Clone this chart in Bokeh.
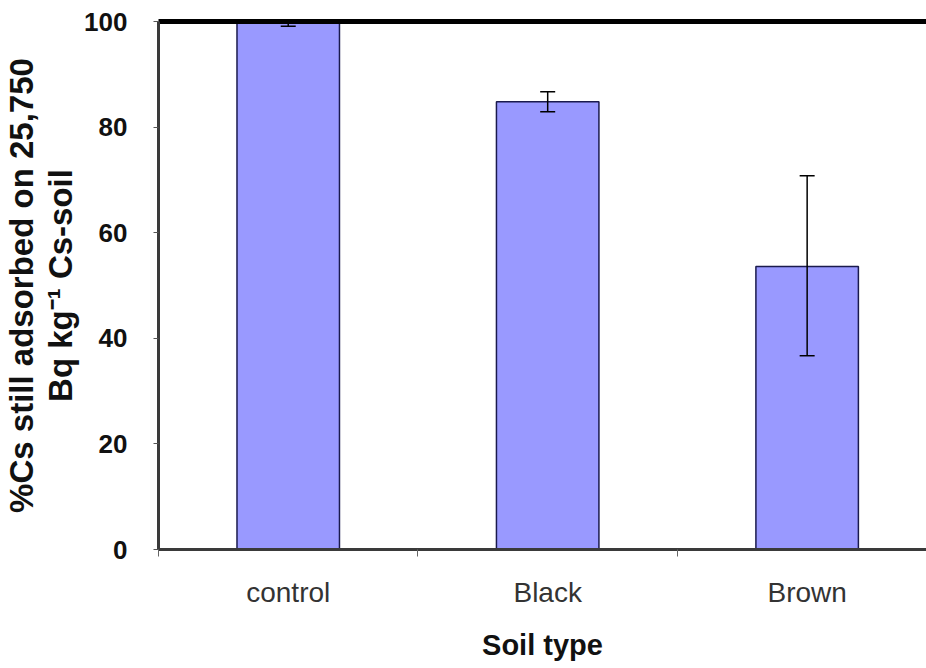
from bokeh.plotting import figure
from bokeh.models import Range1d, FixedTicker, Whisker, ColumnDataSource, TeeHead, LinearAxis
from bokeh.embed import file_html
from bokeh.resources import INLINE

categories = ["control", "Black", "Brown"]
values = [100.0, 84.8, 53.6]
err_low = [99.1, 82.9, 36.7]
err_high = [100.9, 86.7, 70.8]
y_ticks = [0, 20, 40, 60, 80, 100]

positions = [i + 0.5 for i in range(len(categories))]
boundaries = [float(i) for i in range(len(categories) + 1)]

p = figure(width=926, height=668, output_backend="svg", toolbar_location=None,
           x_range=Range1d(0, 2.96), y_range=Range1d(0, 100),
           min_border_left=156, min_border_right=0, min_border_top=21,
           min_border_bottom=119)
p.outline_line_color = None
p.grid.grid_line_color = None
p.background_fill_color = "white"

p.vbar(x=positions, top=values, bottom=0, width=0.395,
       fill_color="#9999ff", line_color="#1a1a4d", line_width=1.5)

src = ColumnDataSource(dict(base=positions, lower=err_low, upper=err_high))
wh = Whisker(source=src, base="base", lower="lower", upper="upper",
             line_color="black", line_width=1.5, level="overlay",
             upper_head=TeeHead(size=15, line_color="black", line_width=1.5),
             lower_head=TeeHead(size=15, line_color="black", line_width=1.5))
p.add_layout(wh)

# thick top line at 100
top_axis = LinearAxis(ticker=FixedTicker(ticks=[]), axis_line_width=5,
                      axis_line_color="black", major_tick_line_color=None,
                      minor_tick_line_color=None, major_label_text_font_size="0px")
p.add_layout(top_axis, "above")

# y axis
p.yaxis.ticker = FixedTicker(ticks=y_ticks)
yax = p.left[0]
yax.major_tick_out = 5
yax.major_tick_in = 0
yax.minor_tick_line_color = None
yax.major_tick_line_color = "#555555"
yax.axis_line_width = 3
yax.axis_line_color = "#3a3a3a"
yax.major_label_text_font = "Liberation Sans"
yax.major_label_text_font_style = "bold"
yax.major_label_text_font_size = "26px"
yax.major_label_text_color = "#111111"
yax.major_label_standoff = 26
yax.axis_label = "%Cs still adsorbed on 25,750\nBq kg\u207b\u00b9 Cs-soil"
yax.axis_label_text_font = "Liberation Sans"
yax.axis_label_text_font_style = "bold"
yax.axis_label_text_font_size = "33px"
yax.axis_label_text_line_height = 1.05
yax.axis_label_text_color = "#111111"
yax.axis_label_standoff = 2

# x axis
xax = p.below[0]
xax.ticker = FixedTicker(ticks=positions, minor_ticks=boundaries)
xax.major_label_overrides = {pos: cat for pos, cat in zip(positions, categories)}
xax.major_tick_line_color = None
xax.minor_tick_out = 7
xax.minor_tick_in = 0
xax.minor_tick_line_color = "#666666"
xax.axis_line_width = 3
xax.axis_line_color = "#3a3a3a"
xax.major_label_text_font = "Liberation Sans"
xax.major_label_text_font_size = "28px"
xax.major_label_text_color = "#333333"
xax.major_label_standoff = 20
xax.axis_label = "Soil type"
xax.axis_label_text_font = "Liberation Sans"
xax.axis_label_text_font_style = "bold"
xax.axis_label_text_font_size = "29px"
xax.axis_label_text_color = "#111111"
xax.axis_label_standoff = 18

open("out.html", "w").write(file_html(p, INLINE))
